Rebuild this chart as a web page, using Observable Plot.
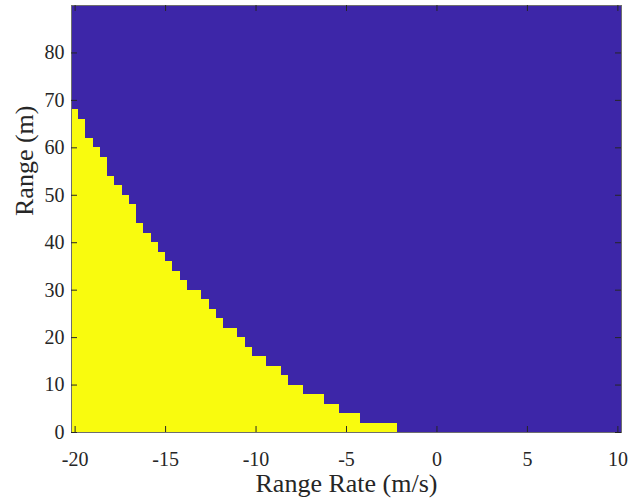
<!DOCTYPE html>
<html><head><meta charset="utf-8">
<script src="https://cdn.jsdelivr.net/npm/d3@7"></script>
<script src="https://cdn.jsdelivr.net/npm/@observablehq/plot@0.6"></script>
<style>html,body{margin:0;padding:0;background:#fff} svg text{font-family:'Liberation Serif','Times New Roman',serif !important}</style>
</head><body><div id="chart"></div>
<script>
// axis limits (image extent) and ticks
const rangeRateLimits = [-20.2, 10.2];   // m/s
const rangeLimits = [0, 90];             // m
const xTicks = [-20, -15, -10, -5, 0, 5, 10];
const yTicks = [0, 10, 20, 30, 40, 50, 60, 70, 80];
const xTickLabels = ["-20", "-15", "-10", "-5", "0", "5", "10"];
const yTickLabels = ["0", "10", "20", "30", "40", "50", "60", "70", "80"];
const xLabel = "Range Rate (m/s)";
const yLabel = "Range (m)";

// range bins (m) holding yellow cells, bottom to top
const rangeBinLow  = [0, 2, 4, 6, 8, 10, 12, 14, 16, 18, 20, 22, 24, 26, 28, 30, 32, 34, 36, 38, 40, 42, 44, 46, 48, 50, 52, 54, 56, 58, 60, 62, 64, 66];
const rangeBinHigh = [2, 4, 6, 8, 10, 12, 14, 16, 18, 20, 22, 24, 26, 28, 30, 32, 34, 36, 38, 40, 42, 44, 46, 48, 50, 52, 54, 56, 58, 60, 62, 64, 66, 68];
// upper range-rate edge (m/s) of the yellow region in each bin
const yellowEdge = [-2.2, -4.2, -5.4, -6.2, -7.4, -8.2, -8.6, -9.4, -10.2, -10.6, -11.0, -11.8, -12.2, -12.6, -13.0, -13.8, -14.2, -14.6, -15.0, -15.4, -15.8, -16.2, -16.6, -16.6, -17.0, -17.4, -17.8, -18.2, -18.2, -18.6, -19.0, -19.4, -19.4, -19.8];

const BLUE = "#3d26a8", YELLOW = "#f9fb0e";
const rows = rangeBinLow.map((lo, i) => ({lo, hi: rangeBinHigh[i], edge: yellowEdge[i]}));
const xTickData = xTicks.map((v, i) => ({v, t: xTickLabels[i]}));
const yTickData = yTicks.map((v, i) => ({v, t: yTickLabels[i]}));

const W = 629, H = 499, mL = 71, mR = 8, mT = 5, mB = 67;
const fw = W - mL - mR, fh = H - mT - mB, tl = 6;
const ink = "#262626";
const serif = "'Liberation Serif', 'Times New Roman', serif";

const chart = Plot.plot({
  width: W, height: H,
  marginLeft: mL, marginRight: mR, marginTop: mT, marginBottom: mB,
  style: {fontFamily: serif, background: "#fff", color: ink, overflow: "visible"},
  x: {domain: rangeRateLimits, axis: null},
  y: {domain: rangeLimits, axis: null},
  marks: [
    Plot.frame({fill: BLUE}),
    Plot.rect(rows, {x1: () => rangeRateLimits[0], x2: "edge", y1: "lo", y2: "hi", fill: YELLOW, inset: 0, shapeRendering: "crispEdges"}),
    Plot.frame({stroke: "#6e6e6e"}),
    Plot.tickX(xTicks, {x: d => d, insetTop: fh - tl, stroke: ink}),
    Plot.tickX(xTicks, {x: d => d, insetBottom: fh - tl, stroke: ink}),
    Plot.tickY(yTicks, {y: d => d, insetRight: fw - tl, stroke: ink}),
    Plot.tickY(yTicks, {y: d => d, insetLeft: fw - tl, stroke: ink}),
    Plot.text(xTickData, {x: "v", text: "t", frameAnchor: "bottom", dy: 33, fontSize: 20, fontFamily: serif, fill: ink}),
    Plot.text(yTickData, {y: "v", text: "t", frameAnchor: "left", textAnchor: "end", dx: -7, fontSize: 20, fontFamily: serif, fill: ink}),
    Plot.text([xLabel], {text: d => d, frameAnchor: "bottom", dy: 59, fontSize: 26, fontFamily: serif, fill: ink}),
    Plot.text([yLabel], {text: d => d, frameAnchor: "left", rotate: -90, dx: -47, dy: -3, fontSize: 26, fontFamily: serif, fill: ink})
  ]
});
d3.select(chart).selectAll("text").style("font-family", serif);
document.getElementById("chart").appendChild(chart);
</script>
</body></html>
